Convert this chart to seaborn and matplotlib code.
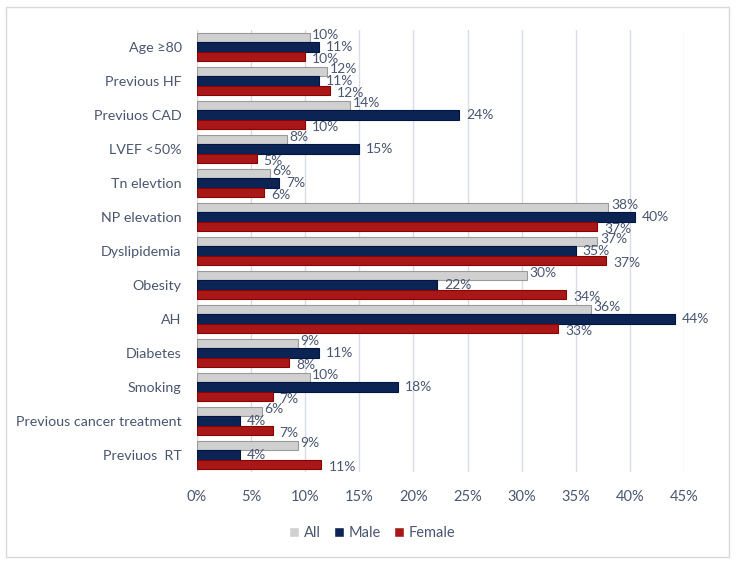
import matplotlib
matplotlib.use("Agg")
import matplotlib.pyplot as plt
import seaborn as sns
import pandas as pd
from matplotlib.patches import Rectangle

categories = ["Age ≥80", "Previous HF", "Previuos CAD", "LVEF <50%", "Tn elevtion",
              "NP elevation", "Dyslipidemia", "Obesity", "AH", "Diabetes", "Smoking",
              "Previous cancer treatment", "Previuos  RT"]
all_vals = [10.4, 12.0, 14.1, 8.3, 6.7, 38.0, 37.0, 30.5, 36.4, 9.3, 10.4, 6.0, 9.3]
male_vals = [11.3, 11.3, 24.2, 15.0, 7.6, 40.5, 35.0, 22.2, 44.2, 11.3, 18.6, 4.0, 4.0]
female_vals = [10.0, 12.3, 10.0, 5.5, 6.2, 37.0, 37.8, 34.1, 33.4, 8.5, 7.0, 7.0, 11.5]
all_labels = ["10%", "12%", "14%", "8%", "6%", "38%", "37%", "30%", "36%", "9%", "10%", "6%", "9%"]
male_labels = ["11%", "11%", "24%", "15%", "7%", "40%", "35%", "22%", "44%", "11%", "18%", "4%", "4%"]
female_labels = ["10%", "12%", "10%", "5%", "6%", "37%", "37%", "34%", "33%", "8%", "7%", "7%", "11%"]
groups = ["All", "Male", "Female"]
x_ticks = [0, 5, 10, 15, 20, 25, 30, 35, 40, 45]

rows = []
for g, vals in zip(groups, [all_vals, male_vals, female_vals]):
    for c, v in zip(categories, vals):
        rows.append({"cat": c, "val": v, "group": g})
df = pd.DataFrame(rows)

sns.set_theme(style="white")
plt.rcParams['font.family'] = ['Lato', 'DejaVu Sans']

txt = "#4A5670"
colors = {"All": "#D0D0D0", "Male": "#002060", "Female": "#C00000"}
edges = {"All": "#9A9A9A", "Male": "#001540", "Female": "#8A0000"}

fig = plt.figure(figsize=(7.36, 5.65), dpi=100)
fig.patches.append(Rectangle((6 / 736, 8 / 565), 723 / 736, 550 / 565, transform=fig.transFigure,
                             fill=False, edgecolor="#D9D9D9", linewidth=1))
ax = fig.add_axes([197 / 736, 1 - 472 / 565, (684 - 197) / 736, (472 - 30) / 565])

sns.barplot(data=df, y="cat", x="val", hue="group", hue_order=groups, order=categories,
            palette=colors, orient="h", width=0.84, gap=0, ax=ax, errorbar=None, zorder=3)

for cont, g in zip(ax.containers, groups):
    for p in cont:
        p.set_edgecolor(edges[g])
        p.set_linewidth(0.8)

ax.set_xlim(0, 45)
ax.set_xticks(x_ticks)
ax.set_xticklabels([f"{t}%" for t in x_ticks])
ax.set_xlabel("")
ax.set_ylabel("")
ax.grid(axis="x", color="#D9DCE8", linewidth=1, zorder=0)
ax.grid(axis="y", visible=False)
for s in ax.spines.values():
    s.set_visible(False)
ax.axvline(0, color="#D9DCE8", linewidth=1, zorder=0)
ax.tick_params(axis="x", length=0, pad=13, labelsize=10.5, labelcolor=txt)
ax.tick_params(axis="y", length=0, pad=11, labelsize=10.3, labelcolor=txt)

offsets = {"All": (2, 2), "Male": (5, 0), "Female": (5, -2)}
labels = {"All": all_labels, "Male": male_labels, "Female": female_labels}
for cont, g in zip(ax.containers, groups):
    for p, lab in zip(cont, labels[g]):
        x = p.get_x() + p.get_width()
        y = p.get_y() + p.get_height() / 2
        ax.annotate(lab, (x, y), xytext=offsets[g], textcoords="offset points",
                    ha="left", va="center", fontsize=10, color=txt, zorder=5)

handles, leg_labels = ax.get_legend_handles_labels()
ax.legend_.remove()
fig.legend(handles, leg_labels, loc="center", bbox_to_anchor=(372 / 736, 1 - 533 / 565), ncol=3,
           frameon=False, fontsize=10.5, labelcolor=txt, handlelength=0.7, handleheight=0.7,
           handletextpad=0.3, columnspacing=0.9)

fig.savefig("out.png", dpi=100)
